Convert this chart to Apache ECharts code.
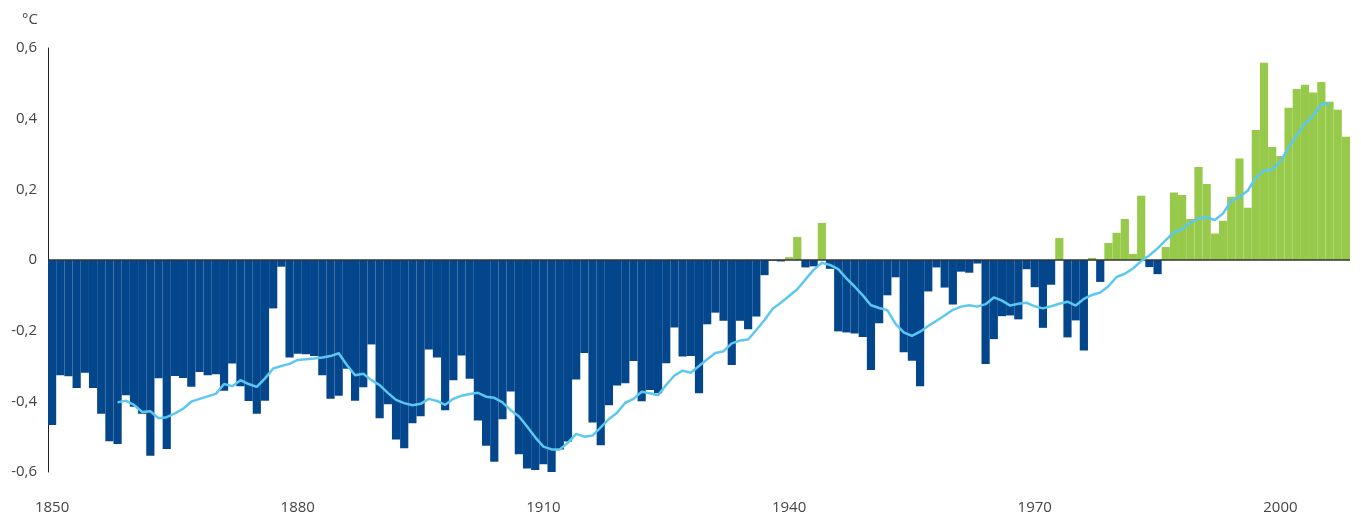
<!DOCTYPE html>
<html>
<head>
<meta charset="utf-8">
<script src="https://cdn.jsdelivr.net/npm/echarts@6/dist/echarts.min.js"></script>
<style>
  html, body { margin: 0; padding: 0; background: #ffffff; }
  #chart { width: 1361px; height: 517px; }
</style>
</head>
<body>
<div id="chart"></div>
<script>
// Annual global temperature anomaly, °C, 1850–2008
const firstYear = 1850;
const anomalies = [
  -0.467, -0.326, -0.329, -0.362, -0.319, -0.362, -0.435, -0.513, -0.521, -0.383,
  -0.415, -0.435, -0.554, -0.335, -0.535, -0.328, -0.334, -0.359, -0.317, -0.326,
  -0.323, -0.370, -0.293, -0.357, -0.399, -0.435, -0.398, -0.137, -0.019, -0.276,
  -0.265, -0.267, -0.272, -0.326, -0.393, -0.384, -0.308, -0.398, -0.360, -0.239,
  -0.448, -0.408, -0.508, -0.533, -0.462, -0.442, -0.253, -0.276, -0.425, -0.340,
  -0.270, -0.336, -0.454, -0.526, -0.571, -0.451, -0.372, -0.550, -0.590, -0.594,
  -0.578, -0.609, -0.536, -0.514, -0.338, -0.263, -0.460, -0.524, -0.411, -0.355,
  -0.349, -0.286, -0.400, -0.368, -0.377, -0.292, -0.191, -0.273, -0.272, -0.377,
  -0.182, -0.149, -0.172, -0.297, -0.172, -0.196, -0.160, -0.043, -0.002, -0.004,
   0.008,  0.065, -0.021, -0.018,  0.105, -0.025, -0.202, -0.205, -0.208, -0.218,
  -0.311, -0.179, -0.100, -0.049, -0.261, -0.285, -0.357, -0.089, -0.021, -0.078,
  -0.126, -0.033, -0.036, -0.010, -0.294, -0.224, -0.159, -0.157, -0.168, -0.026,
  -0.077, -0.192, -0.070,  0.062, -0.219, -0.171, -0.256,  0.006, -0.062,  0.048,
   0.077,  0.116,  0.017,  0.182, -0.020, -0.040,  0.037,  0.191,  0.184,  0.116,
   0.263,  0.215,  0.075,  0.111,  0.179,  0.287,  0.148,  0.368,  0.558,  0.320,
   0.294,  0.431,  0.484,  0.496,  0.474,  0.504,  0.448,  0.425,  0.349
];

// Smoothed trend, 1858–2006
const trendFirstYear = 1858;
const trend = [
  -0.403, -0.398,
  -0.410, -0.430, -0.428, -0.448, -0.445, -0.434, -0.421, -0.401, -0.393, -0.386,
  -0.379, -0.351, -0.357, -0.340, -0.351, -0.359, -0.335, -0.307, -0.300, -0.294,
  -0.283, -0.281, -0.279, -0.276, -0.272, -0.264, -0.297, -0.326, -0.322, -0.340,
  -0.354, -0.376, -0.396, -0.405, -0.411, -0.407, -0.393, -0.399, -0.410, -0.393,
  -0.384, -0.379, -0.376, -0.387, -0.390, -0.403, -0.425, -0.442, -0.471, -0.502,
  -0.528, -0.536, -0.536, -0.517, -0.492, -0.500, -0.497, -0.474, -0.450, -0.432,
  -0.404, -0.393, -0.373, -0.377, -0.383, -0.353, -0.327, -0.313, -0.319, -0.300,
  -0.281, -0.263, -0.258, -0.236, -0.228, -0.225, -0.198, -0.170, -0.138, -0.121,
  -0.102, -0.083, -0.055, -0.028, -0.008, -0.014, -0.026, -0.052, -0.075, -0.100,
  -0.128, -0.136, -0.142, -0.181, -0.205, -0.215, -0.203, -0.187, -0.172, -0.157,
  -0.141, -0.132, -0.128, -0.132, -0.125, -0.106, -0.115, -0.129, -0.124, -0.121,
  -0.131, -0.137, -0.131, -0.124, -0.118, -0.129, -0.110, -0.099, -0.092, -0.074,
  -0.048, -0.039, -0.024, -0.003,  0.013,  0.033,  0.056,  0.078,  0.087,  0.106,
   0.117,  0.121,  0.113,  0.132,  0.168,  0.178,  0.196,  0.233,  0.253,  0.255,
   0.280,  0.318,  0.354,  0.386,  0.408,  0.441,  0.443
];

const yTicks = { min: -0.6, max: 0.6, step: 0.2 };
const labelEvery = 30;

const years = anomalies.map((_, i) => String(firstYear + i));
const trendSeries = years.map(y => {
  const j = Number(y) - trendFirstYear;
  return (j >= 0 && j < trend.length) ? trend[j] : null;
});

const COLD = '#03468C';
const WARM = '#97C94A';
const TREND = '#5CC8F2';
const TEXT = '#444444';
const FONT = '"Open Sans", "Noto Sans", sans-serif';

const chart = echarts.init(document.getElementById('chart'), null, { renderer: 'canvas' });

chart.setOption({
  animation: false,
  backgroundColor: '#ffffff',
  textStyle: { fontFamily: FONT },
  title: {
    text: '°C',
    left: 17,
    top: 7,
    textStyle: { fontFamily: FONT, fontSize: 15, fontWeight: 'normal', color: TEXT }
  },
  grid: { left: 48, right: 11, top: 48, bottom: 45, containLabel: false },
  xAxis: {
    type: 'category',
    data: years,
    boundaryGap: true,
    axisLine: { show: false, onZero: false },
    axisTick: { show: false },
    splitLine: { show: false },
    axisLabel: {
      interval: labelEvery - 1,
      margin: 28,
      fontSize: 15,
      color: TEXT,
      fontFamily: FONT
    }
  },
  yAxis: {
    type: 'value',
    min: yTicks.min,
    max: yTicks.max,
    interval: yTicks.step,
    axisLine: { show: true, lineStyle: { color: '#222222', width: 1 } },
    axisTick: { show: false },
    splitLine: { show: false },
    axisLabel: {
      margin: 11,
      fontSize: 15,
      color: TEXT,
      fontFamily: FONT,
      formatter: v => (Math.abs(v) < 1e-9 ? '0' : v.toFixed(1).replace('.', ','))
    }
  },
  series: [
    {
      type: 'bar',
      data: anomalies,
      barCategoryGap: '0%',
      itemStyle: {
        color: p => (p.value >= 0 ? WARM : COLD)
      },
      markLine: {
        silent: true,
        symbol: ['none', 'none'],
        label: { show: false },
        lineStyle: { color: '#333333', width: 1.5, type: 'solid' },
        data: [{ yAxis: 0 }],
        z: 5
      },
      z: 2
    },
    {
      type: 'line',
      data: trendSeries,
      showSymbol: false,
      symbol: 'none',
      connectNulls: false,
      lineStyle: { color: TREND, width: 2.5 },
      itemStyle: { color: TREND },
      z: 6
    }
  ]
});
</script>
</body>
</html>
